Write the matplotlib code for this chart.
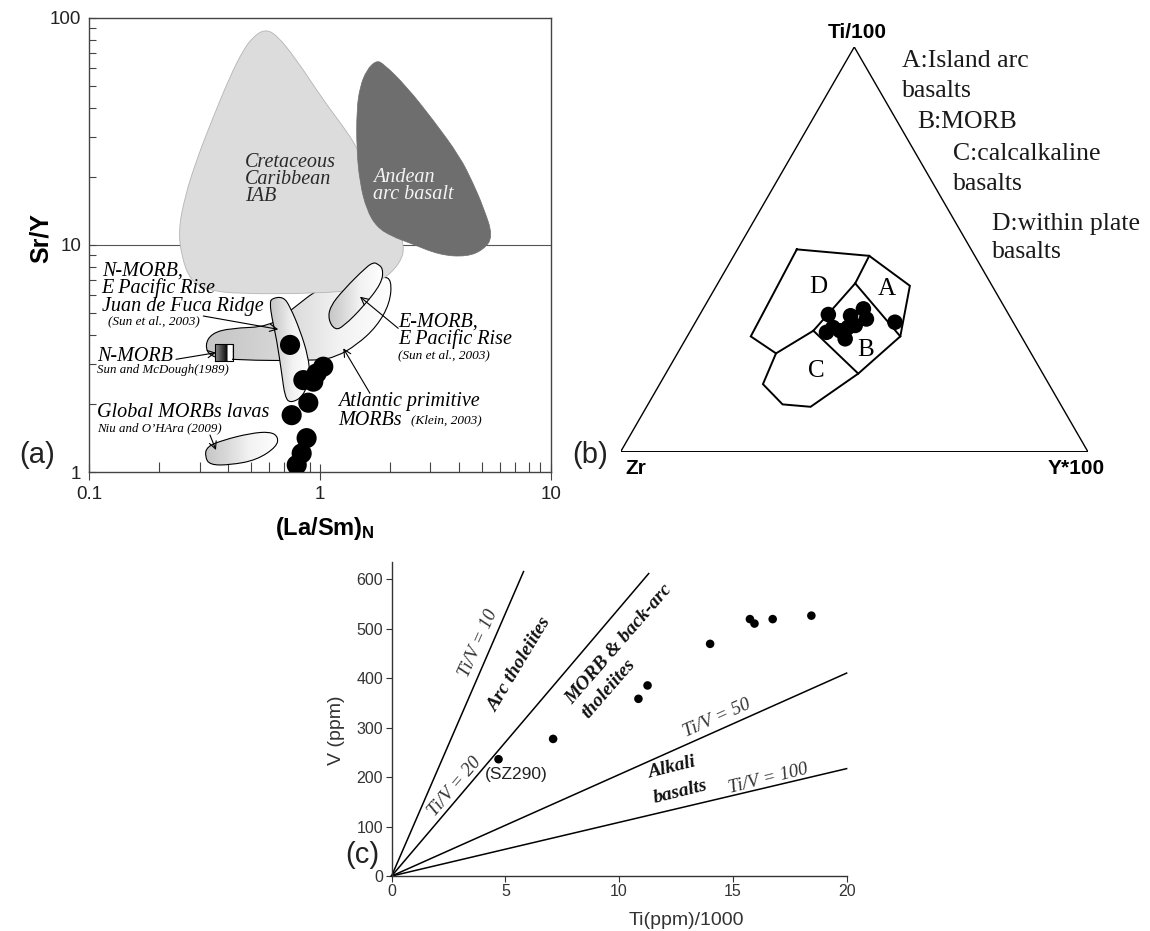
import numpy as np
import matplotlib
matplotlib.use("Agg")
import matplotlib.pyplot as plt
from matplotlib.path import Path
from matplotlib.patches import PathPatch
from matplotlib.colors import LinearSegmentedColormap

plt.rcParams['font.family'] = ['Liberation Sans', 'DejaVu Sans']
plt.rcParams['mathtext.fontset'] = 'custom'
plt.rcParams['mathtext.bf'] = 'Liberation Sans:bold'
plt.rcParams['mathtext.rm'] = 'Liberation Sans'
SERIF = ['Liberation Serif', 'DejaVu Serif']

# ---------------- (a) Sr/Y vs (La/Sm)N ----------------
lasm = [0.740, 1.031, 0.965, 0.845, 0.933, 0.888, 0.752, 0.873, 0.831, 0.791]
sr_y = [3.63, 2.91, 2.72, 2.54, 2.50, 2.02, 1.78, 1.41, 1.208, 1.074]

caribbean_x = [0.576, 0.648, 0.791, 1.031, 1.259, 1.439, 1.726, 2.107, 2.33, 2.216,
               1.876, 1.439, 0.997, 0.449, 0.322, 0.273, 0.251, 0.243, 0.259, 0.291,
               0.344, 0.406, 0.464, 0.513]
caribbean_y = [89.2, 84.2, 65.3, 43.5, 33.2, 27.1, 18.4, 12.9, 9.83, 8.30,
               7.01, 6.34, 6.13, 6.08, 6.34, 7.01, 8.88, 11.6, 16.3, 23.7,
               36.7, 55.1, 72.3, 82.7]

andean_x = [1.745, 1.876, 2.37, 3.09, 4.03, 4.60, 5.09, 5.62, 5.09, 4.31, 3.30,
            2.45, 2.05, 1.757, 1.59, 1.487, 1.439, 1.439, 1.487, 1.59]
andean_y = [64.9, 63.1, 49.8, 35.5, 24.5, 18.7, 14.7, 10.9, 9.51, 8.88, 9.03,
            10.2, 10.9, 12.0, 14.3, 18.7, 26.2, 39.3, 49.8, 59.0]

atlantic_x = [0.3166, 0.3384, 0.4064, 0.6057, 0.764, 0.997, 1.259, 1.876, 2.04,
              2.005, 1.757, 1.439, 1.178, 0.965, 0.420, 0.3324]
atlantic_y = [3.63, 4.08, 4.30, 4.37, 5.26, 6.5, 6.8, 7.3, 7.01,
              5.54, 4.37, 3.63, 3.22, 3.09, 3.11, 3.22]

npr_x = [0.616, 0.692, 0.740, 0.817, 0.888, 0.903, 0.845, 0.740, 0.703, 0.681,
         0.648, 0.616, 0.6055]
npr_y = [5.82, 5.92, 5.35, 4.22, 3.22, 2.63, 2.15, 2.007, 2.15, 2.72,
         3.82, 4.83, 5.54]

emorb_x = [1.757, 1.876, 1.846, 1.537, 1.259, 1.159, 1.084, 1.102, 1.259, 1.59, 1.70]
emorb_y = [8.30, 7.89, 6.78, 5.35, 4.37, 4.22, 4.68, 5.35, 6.34, 8.03, 8.36]

global_x = [0.3166, 0.322, 0.380, 0.496, 0.6057, 0.658, 0.648, 0.530, 0.4064, 0.3324]
global_y = [1.168, 1.293, 1.383, 1.48, 1.506, 1.431, 1.293, 1.129, 1.074, 1.074]

nmorb_sq_x = [0.351, 0.419]
nmorb_sq_y = [3.07, 3.68]

# ---------------- (b) Ti - Zr - Y ternary (percent) ----------------
pts_ti = [33.9, 29.5, 27.9, 30.7, 33.6, 35.3, 32.8, 29.9, 32.0, 31.2, 30.7]
pts_y = [27.5, 29.3, 34.1, 33.3, 32.4, 34.3, 36.2, 32.0, 42.7, 34.6, 30.1]

outline_ti = [50.0, 48.4, 41.0, 28.5, 19.3, 11.1, 11.7, 16.7, 24.3, 28.5, 50.0]
outline_y = [12.7, 29.0, 41.4, 45.6, 41.2, 35.1, 28.8, 22.1, 21.1, 13.6, 12.7]
# internal boundaries: D/A, A/B, D/B, D/C, B/C
inner_ti = [[48.4, 41.6], [41.6, 28.5], [41.6, 29.9], [29.9, 24.3], [29.9, 19.3]]
inner_y = [[29.0, 29.4], [29.4, 45.6], [29.4, 26.3], [26.3, 21.1], [26.3, 41.2]]

# ---------------- (c) V vs Ti/1000 ----------------
ti_c = [4.7, 7.1, 10.85, 11.25, 14.0, 15.75, 15.95, 16.75, 18.45]
v_c = [236, 277, 358, 385, 469, 519, 510, 519, 526]
tiv_end_ti = [5.8, 11.3, 20.0, 20.0]
tiv_end_v = [615, 611, 410, 217]


def smooth_closed(xs, ys):
    # closed quadratic-bezier outline through log-space midpoints
    x = np.log10(xs)
    y = np.log10(ys)
    mx = (x + np.roll(x, -1)) / 2
    my = (y + np.roll(y, -1)) / 2
    verts = [(mx[-1], my[-1])]
    codes = [Path.MOVETO]
    for i in range(len(x)):
        verts += [(x[i], y[i]), (mx[i], my[i])]
        codes += [Path.CURVE3, Path.CURVE3]
    return Path(10 ** np.array(verts), codes)


morb_cmap = LinearSegmentedColormap.from_list('morb', ['#c6c6c6', '#f2f2f2', '#ffffff'])
sq_cmap = LinearSegmentedColormap.from_list(
    'sq', [(0, '#8c8c8c'), (0.62, '#0a0a0a'), (0.7, '#ffffff'), (1, '#ffffff')])


def gradient_field(ax, xs, ys, z):
    patch = PathPatch(smooth_closed(xs, ys), facecolor='none', edgecolor='k',
                      lw=0.8, zorder=z + 0.1)
    ax.add_patch(patch)
    g = np.linspace(0, 1, 256).reshape(1, -1)
    im = ax.imshow(g, cmap=morb_cmap, extent=[min(xs), max(xs), min(ys), max(ys)],
                   aspect='auto', origin='lower', interpolation='bilinear', zorder=z)
    im.set_clip_path(patch)


fig = plt.figure(figsize=(11.5, 9.31), dpi=100)

# ===================== panel (a) =====================
ax = fig.add_axes([0.0778, 0.4930, 0.4013, 0.4877])
ax.set_xscale('log')
ax.set_yscale('log')
ax.axhline(10, color='#555555', lw=0.8, zorder=0.5)

gradient_field(ax, atlantic_x, atlantic_y, 1)
ax.add_patch(PathPatch(smooth_closed(caribbean_x, caribbean_y), facecolor='#dcdcdc',
                       edgecolor='#b4b4b4', lw=0.6, zorder=2))
ax.add_patch(PathPatch(smooth_closed(andean_x, andean_y), facecolor='#6e6e6e',
                       edgecolor='#6e6e6e', lw=0.5, zorder=3))
gradient_field(ax, npr_x, npr_y, 4)
gradient_field(ax, emorb_x, emorb_y, 4)
gradient_field(ax, global_x, global_y, 4)

g = np.linspace(0, 1, 256).reshape(1, -1)
ax.imshow(g, cmap=sq_cmap, extent=[nmorb_sq_x[0], nmorb_sq_x[1], nmorb_sq_y[0], nmorb_sq_y[1]],
          aspect='auto', origin='lower', interpolation='bilinear', zorder=4.5)
ax.plot([nmorb_sq_x[0], nmorb_sq_x[1], nmorb_sq_x[1], nmorb_sq_x[0], nmorb_sq_x[0]],
        [nmorb_sq_y[0], nmorb_sq_y[0], nmorb_sq_y[1], nmorb_sq_y[1], nmorb_sq_y[0]],
        color='k', lw=0.8, zorder=4.6)

ax.scatter(lasm, sr_y, s=210, color='k', edgecolor='none', zorder=6)

ax.set_xlim(0.1, 10)
ax.set_ylim(1, 100)
ax.set_xticks([0.1, 1, 10], labels=['0.1', '1', '10'])
ax.set_yticks([1, 10, 100], labels=['1', '10', '100'])
ax.tick_params(axis='x', which='major', direction='inout', length=12, width=0.8,
               color='#444444', labelsize=13.5, labelcolor='#222222', pad=4)
ax.tick_params(axis='x', which='minor', direction='in', length=7, width=0.8, color='#444444')
ax.tick_params(axis='y', which='major', direction='in', length=5, width=0.8,
               color='#444444', labelsize=13.5, labelcolor='#222222', pad=6)
ax.tick_params(axis='y', which='minor', direction='in', length=5, width=0.8, color='#444444')
for s in ax.spines.values():
    s.set_color('#444444')
    s.set_linewidth(1.0)

ax.text(-0.105, 0.515, 'Sr/Y', transform=ax.transAxes, rotation=90, ha='center',
        va='center', fontsize=18, fontweight='bold')
ax.text(0.51, -0.125, r'$\mathbf{(La/Sm)_N}$', transform=ax.transAxes, ha='center',
        va='center', fontsize=17)

it = dict(family=SERIF, style='italic', transform=ax.transAxes, zorder=7)
ax.text(0.337, 0.644, 'Cretaceous\nCaribbean\nIAB', ha='left', va='center', fontsize=14.5,
        color='#2a2a2a', linespacing=0.88, **it)
ax.text(0.6137, 0.630, 'Andean\narc basalt', ha='left', va='center', fontsize=14.5,
        color='#f4f4f4', linespacing=0.88, **it)
ax.text(0.0264, 0.404, 'N-MORB,\nE Pacific Rise\nJuan de Fuca Ridge', ha='left', va='center',
        fontsize=14.5, linespacing=0.88, **it)
ax.text(0.040, 0.331, '(Sun et al., 2003)', ha='left', va='center', fontsize=9.5, **it)
ax.text(0.0156, 0.2555, 'N-MORB', ha='left', va='center', fontsize=14.5, **it)
ax.text(0.0156, 0.2247, 'Sun and McDough(1989)', ha='left', va='center', fontsize=9.3, **it)
ax.text(0.0163, 0.1306, 'Global MORBs lavas', ha='left', va='center', fontsize=14.5, **it)
ax.text(0.0163, 0.0969, 'Niu and O\u2019HAra (2009)', ha='left', va='center', fontsize=9.3, **it)
ax.text(0.6685, 0.311, 'E-MORB,\nE Pacific Rise', ha='left', va='center', fontsize=14.5,
        linespacing=0.88, **it)
ax.text(0.6685, 0.2577, '(Sun et al., 2003)', ha='left', va='center', fontsize=9.5, **it)
ax.text(0.539, 0.1548, 'Atlantic primitive', ha='left', va='center', fontsize=14.5, **it)
ax.text(0.539, 0.1145, 'MORBs', ha='left', va='center', fontsize=14.5, **it)
ax.text(0.6966, 0.1145, '(Klein, 2003)', ha='left', va='center', fontsize=9.5, **it)

arrows = [((0.2466, 0.3436), (0.409, 0.3143)),
          ((0.1874, 0.2482), (0.2741, 0.2628)),
          ((0.2611, 0.0815), (0.2741, 0.0485)),
          ((0.669, 0.3165), (0.5861, 0.3861)),
          ((0.6078, 0.1733), (0.55, 0.2725))]
for tail, tip in arrows:
    ax.annotate('', xy=tip, xytext=tail, xycoords='axes fraction',
                arrowprops=dict(arrowstyle='->', lw=0.8, color='k', shrinkA=0,
                                shrinkB=0, mutation_scale=13), zorder=7)

# ===================== panel (b) =====================
h = np.sqrt(3) / 2


def tern(ti, y):
    ti = np.asarray(ti, float) / 100
    y = np.asarray(y, float) / 100
    return y + ti / 2, ti * h


bx = fig.add_axes([0.5397, 0.5148, 0.4063, 0.4347])
tx, ty = tern([0, 0, 100, 0], [0, 100, 0, 0])
bx.plot(tx, ty, color='k', lw=1.0, solid_joinstyle='miter')
ox, oy = tern(outline_ti, outline_y)
bx.plot(ox, oy, color='k', lw=1.4, solid_joinstyle='miter')
for lti, ly in zip(inner_ti, inner_y):
    lx_, ly_ = tern(lti, ly)
    bx.plot(lx_, ly_, color='k', lw=1.4)
px, py = tern(pts_ti, pts_y)
bx.scatter(px, py, s=125, color='k', edgecolor='none', zorder=5)

for lab, x, y in [('D', 0.4229, 0.3531), ('A', 0.5692, 0.3475), ('B', 0.5243, 0.2176),
                  ('C', 0.4179, 0.1733)]:
    bx.text(x, y, lab, family=SERIF, fontsize=18, ha='center', va='center')

bx.text(0.506, 0.898, 'Ti/100', ha='center', va='center', fontsize=15, fontweight='bold')
bx.text(0.033, -0.036, 'Zr', ha='center', va='center', fontsize=15, fontweight='bold')
bx.text(0.975, -0.036, 'Y*100', ha='center', va='center', fontsize=15, fontweight='bold')

legend_lines = [('A:Island arc', 0.6013, 0.8239), ('basalts', 0.6013, 0.7597),
                ('B:MORB', 0.6356, 0.6927), ('C:calcalkaline', 0.7117, 0.6242),
                ('basalts', 0.7117, 0.5600), ('D:within plate', 0.7939, 0.4744),
                ('basalts', 0.7939, 0.4139)]
for s_, x, y in legend_lines:
    bx.text(x, y, s_, family=SERIF, fontsize=18.5, ha='left', va='baseline',
            color='#1a1a1a')

bx.set_xlim(0, 1)
bx.set_ylim(0, h)
bx.axis('off')

# ===================== panel (c) =====================
cx = fig.add_axes([0.3405, 0.0590, 0.3957, 0.3377])
for ex, ev in zip(tiv_end_ti, tiv_end_v):
    cx.plot([0, ex], [0, ev], color='k', lw=1.1, clip_on=False)
cx.scatter(ti_c, v_c, s=38, color='k', edgecolor='none', zorder=5)

cx.set_xlim(0, 20)
cx.set_ylim(0, 635)
cx.set_xticks([0, 5, 10, 15, 20])
cx.set_yticks([0, 100, 200, 300, 400, 500, 600])
cx.tick_params(direction='out', length=4, width=0.8, color='#333333', labelsize=11.5,
               labelcolor='#333333', pad=2)
cx.spines['top'].set_visible(False)
cx.spines['right'].set_visible(False)
for s in ('left', 'bottom'):
    cx.spines[s].set_color('#333333')
    cx.spines[s].set_linewidth(1.0)

cx.text(0.647, -0.14, 'Ti(ppm)/1000', transform=cx.transAxes, ha='center', va='center',
        fontsize=14, color='#333333')
cx.text(-0.12, 0.465, 'V (ppm)', transform=cx.transAxes, ha='center', va='center',
        rotation=90, fontsize=14, color='#333333')

ital = dict(family=SERIF, style='italic', color='#333333', ha='center', va='center',
            rotation_mode='anchor')
bold = dict(family=SERIF, style='italic', fontweight='bold', color='#111111',
            ha='center', va='center', rotation_mode='anchor')
cx.text(3.81, 470, 'Ti/V = 10', rotation=66, fontsize=13.5, **ital)
cx.text(2.79, 181, 'Ti/V = 20', rotation=49.5, fontsize=13.5, **ital)
cx.text(14.32, 318, 'Ti/V = 50', rotation=24, fontsize=13.5, **ital)
cx.text(16.57, 196, 'Ti/V = 100', rotation=14, fontsize=13.5, **ital)
cx.text(5.62, 427, 'Arc tholeiites', rotation=59, fontsize=14, **bold)
cx.text(10.0, 467, 'MORB & back-arc', rotation=49, fontsize=14, **bold)
cx.text(9.53, 378, 'tholeiites', rotation=49, fontsize=14, **bold)
cx.text(12.32, 218, 'Alkali', rotation=14, fontsize=14, **bold)
cx.text(12.68, 169, 'basalts', rotation=14, fontsize=14, **bold)
cx.text(5.50, 206, '(SZ290)', ha='center', va='center', fontsize=12.5, color='#222222')

# panel letters
fig.text(0.032, 0.511, '(a)', fontsize=21, ha='center', va='center', color='#222222')
fig.text(0.513, 0.511, '(b)', fontsize=21, ha='center', va='center', color='#222222')
fig.text(0.315, 0.0816, '(c)', fontsize=21, ha='center', va='center', color='#222222')

fig.savefig('out.png', dpi=100)
